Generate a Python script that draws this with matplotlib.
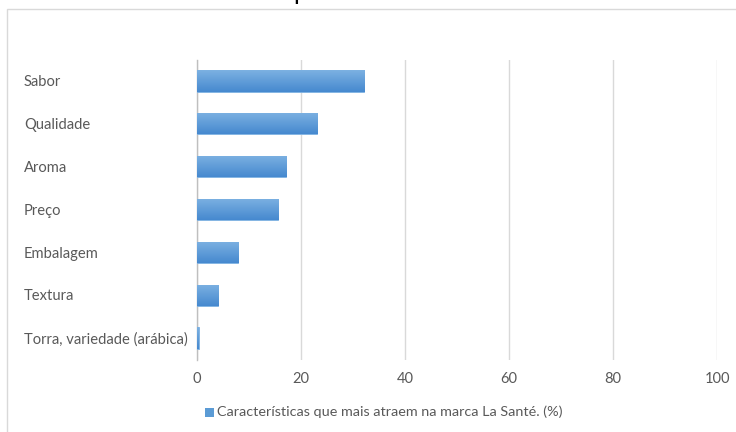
import matplotlib
matplotlib.use("Agg")
import matplotlib.pyplot as plt
import numpy as np
from matplotlib.patches import Rectangle
from matplotlib.transforms import blended_transform_factory
from matplotlib.colors import LinearSegmentedColormap

categories = ["Sabor", "Qualidade", "Aroma", "Preço", "Embalagem", "Textura",
              "Torra, variedade (arábica)"]
values = [32.2, 23.1, 17.2, 15.6, 7.9, 4.1, 0.3]
xticks = [0, 20, 40, 60, 80, 100]
legend_label = "Características que mais atraem na marca La Santé. (%)"

plt.rcParams['font.family'] = ['Lato', 'DejaVu Sans']
txt_color = "#595959"

fig = plt.figure(figsize=(7.36, 4.32), dpi=100)
ax = fig.add_axes([197/736, 1-359.5/432, 520/736, 300/432])

y = np.arange(len(categories))
bars = ax.barh(y, values, height=0.5, color="#5b9bd5", edgecolor="#7fb2e3",
               linewidth=0.6, zorder=3)

# vertical gradient on bars
grad = np.linspace(0, 1, 64).reshape(-1, 1)
cmap = LinearSegmentedColormap.from_list("g", ["#7cb1e2", "#4689cf"])
for b in bars:
    x0, y0 = b.get_x(), b.get_y()
    w, h = b.get_width(), b.get_height()
    im = ax.imshow(grad, cmap=cmap, aspect='auto', extent=(x0, x0+w, y0+h, y0),
                   zorder=3.5, interpolation='bilinear')
    im.set_clip_path(b)
ax.set_xlim(0, 100)
ax.set_ylim(len(categories)-0.5, -0.5)

ax.set_xticks(xticks)
ax.set_xticklabels([str(t) for t in xticks], fontsize=10.5, color=txt_color)
ax.tick_params(axis='x', length=0, pad=9)
ax.set_yticks([])
ax.grid(axis='x', color="#d9d9d9", linewidth=1.0, zorder=0)
for s in ["top", "right", "bottom"]:
    ax.spines[s].set_visible(False)
ax.spines["left"].set_color("#bfbfbf")
ax.spines["left"].set_linewidth(1.0)

trans = blended_transform_factory(fig.transFigure, ax.transData)
for i, c in enumerate(categories):
    ax.text(24/736, i + 0.03, c, transform=trans, ha='left', va='center',
            fontsize=10.6, color=txt_color)

# legend
fig.patches.append(Rectangle((205/736, 1-417/432), 9/736, 9/432,
                             transform=fig.transFigure, facecolor="#5b9bd5",
                             edgecolor="none"))
fig.text(217/736, 1-412/432, legend_label, ha='left', va='center',
         fontsize=10.4, color=txt_color)

# chart frame
fig.patches.append(Rectangle((7/736, -0.1), 1.2, 1-9.5/432 + 0.1,
                             transform=fig.transFigure, facecolor="none",
                             edgecolor="#d9d9d9", linewidth=1.0))

# cut-off title remnant (only its descender is visible in the reference)
fig.text(293/736, 1.0, "p", ha='left', va='baseline', fontsize=18, color="black")

fig.savefig("out.png", dpi=100, facecolor="white")
